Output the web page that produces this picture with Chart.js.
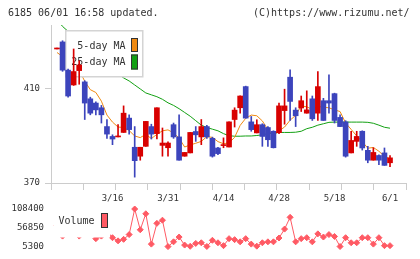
<!DOCTYPE html>
<html><head><meta charset="utf-8">
<script src="https://cdn.jsdelivr.net/npm/chart.js@4"></script>
<style>
html,body{margin:0;padding:0;background:#fff;}
#wrap{position:relative;width:420px;height:259px;overflow:hidden;background:#fff;}
canvas{position:absolute;left:0;top:0;}
.t{position:absolute;top:8px;font:10px 'DejaVu Sans Mono',monospace;line-height:10px;color:#333;white-space:pre;}
</style></head><body>
<div id="wrap">
<canvas id="main" width="420" height="259"></canvas>
<canvas id="vol" width="420" height="259"></canvas>
<div class="t" style="left:8px">6185 06/01 16:58 updated.</div>
<div class="t" style="left:253px">(C)https://www.rizumu.net/</div>
</div>
<script>
const dates = ['3/2','3/3','3/4','3/7','3/8','3/9','3/10','3/11','3/14','3/15','3/16','3/17','3/18','3/22','3/23','3/24','3/25','3/28','3/29','3/30','3/31','4/1','4/4','4/5','4/6','4/7','4/8','4/11','4/12','4/13','4/14','4/15','4/18','4/19','4/20','4/21','4/22','4/25','4/26','4/27','4/28','5/2','5/6','5/9','5/10','5/11','5/12','5/13','5/16','5/17','5/18','5/19','5/20','5/23','5/24','5/25','5/26','5/27','5/30','5/31','6/1'];
const tickLabels = ['3/16','3/31','4/14','4/28','5/18','6/1'];
const open  = [427,430,418,411.7,417.8,413,405.8,404,402,394,389.8,389.6,391.5,397.6,385.2,381.4,385.6,394,391,386,385,394.8,389.6,381.4,382.8,391.9,389.6,394,389,384.9,385.9,385.3,397,402,411,396,391.3,394.8,393.6,392,391.4,400.8,415,401,401.9,399.7,405.8,399.7,405,405,408,397.9,396,382.8,387.7,392,383.9,379.7,381.7,382.8,378.6];
const high  = [427,430.5,418.5,427,422,413.5,406.5,404.5,403,397,390.5,394.8,402.8,399,394,385.2,396.2,395,402,393.4,387.5,395.5,399,383,391.5,394,397,394.5,389.5,385.2,389.2,396,402,407.1,411.2,398.3,396.9,395.2,394,392.2,404,409.9,418.1,402,407,409.2,407,417.4,406,416,408.2,399,396.5,392,392,392.2,385.6,385,382,384.9,381.7];
const low   = [427,417.5,406.5,411.5,412,397,399,399,395.5,389,386.3,389.6,391.5,390.8,372.5,379.7,385.6,388.7,388.7,381.4,381.4,389,379.7,381.4,382.8,387.7,386.3,389,381,382,385,385.3,393.8,399.7,397.6,392,391.3,385.6,385.6,384.9,391,395,396.6,394,400.4,399.7,396.6,396.6,396.6,399.7,395.5,394,381,382.8,385.6,384,378.6,379.7,377.8,377.5,376.9];
const close = [427,418,407,417.4,420.2,404,399.7,401.1,399,390.8,388.7,389.6,399.7,392.7,379.5,385.2,396.2,390.8,402,387,387,389.6,379.7,383,391.5,390.5,394,389.6,381.4,382.5,385.9,396,401,407,397.6,392.7,394.8,389.8,388.4,385,402.8,402.8,404.7,398.6,405,401.1,397.3,411,396.6,404,396.6,394,381.4,388.1,389.8,384.9,379.7,383,379.7,377.5,380.7];
const ma5   = [425.5,423.8,421.2,419.5,417.9,413.3,409.7,408.5,404.8,398.9,395.9,393.8,393.6,392.3,390.0,389.3,390.7,388.9,390.7,392.2,392.6,391.3,389.1,385.3,386.2,386.9,387.7,389.7,389.4,387.6,386.7,387.1,389.4,394.5,397.5,398.9,398.6,396.4,392.7,390.1,392.2,393.8,396.7,398.8,402.8,402.4,401.3,402.6,402.2,402.0,401.1,400.4,395.5,392.8,390.0,387.6,384.8,385.1,383.5,381.3,380.3];
const ma25  = [439.6,436.6,434.5,432.7,430.5,428.8,426.5,424.7,422.4,420.6,418.5,416.5,414.7,413.4,411.7,410.0,408.3,407.5,406.7,405.6,404.1,403.0,401.6,400.0,398.4,396.5,394.6,393.6,392.9,392.2,391.0,390.1,389.9,389.9,390.0,390.0,390.2,390.5,391.0,391.2,391.5,391.5,391.5,391.6,392.0,393.1,393.7,394.6,395.2,395.8,395.9,395.9,395.9,395.9,395.9,395.9,395.8,395.4,394.6,393.7,393.3];
const volume = [62000,34100,78000,52000,34100,70000,56000,27100,34100,48000,29700,21000,25200,38300,108400,51500,95300,12100,69000,77700,5300,18400,31500,9500,6100,14000,15800,5700,22600,15800,7900,27100,24400,18400,27100,12100,6500,15800,18400,18400,28900,53300,85600,18400,27100,29700,18400,40200,31500,38300,33100,5500,29700,15800,15800,29700,29700,12100,29700,7900,7900];
const priceTicks = [370, 410];
const volumeTicks = [5300, 56850, 108400];
const maLabels = ['5-day MA', '25-day MA'];
const volLabel = 'Volume';

const RED='#d80000', BLUE='#3c44bc', ORANGE='#f08a12', GREEN='#12a012', VOLC='#ff5a64';
const FONT="'DejaVu Sans Mono', monospace";
const X_MIN=-1.08, X_MAX=62.88;
const idx = dates.map((d,i)=>i);
const candleColor = i => close[i] >= open[i] ? RED : BLUE;
const markTicks = Array.from({length:12}, (_,k)=> X_MIN + k*(X_MAX-X_MIN)/11);
const labelTicks = tickLabels.map(l => dates.indexOf(l));

function box(ctx,x,y,w,h,c){
  ctx.fillStyle=c; ctx.fillRect(x,y,w,h);
  ctx.strokeStyle='#333'; ctx.lineWidth=1; ctx.strokeRect(x+0.5,y+0.5,w-1,h-1);
}
const legendPlugin = {
  id:'maLegend',
  beforeDatasetDraw(chart,args){
    if(args.index!==2) return;
    const ctx=chart.ctx; ctx.save();
    ctx.fillStyle='#fff'; ctx.fillRect(65,30,78,47);
    ctx.strokeStyle='#d4d4d4'; ctx.lineWidth=1.5; ctx.strokeRect(65.75,30.75,77,46);
    ctx.font="10px "+FONT; ctx.fillStyle='#333'; ctx.textAlign='right'; ctx.textBaseline='middle';
    ctx.fillText(maLabels[0],125.5,46); ctx.fillText(maLabels[1],125.5,62.5);
    box(ctx,131,38,7,14,ORANGE); box(ctx,131,54.5,7,15,GREEN);
    ctx.restore();
  }
};
const volLegendPlugin = {
  id:'volLegend',
  afterDatasetsDraw(chart){
    const ctx=chart.ctx; ctx.save();
    ctx.fillStyle='#fff'; ctx.fillRect(54,205,56,32.5);
    ctx.font="10px "+FONT; ctx.fillStyle='#333'; ctx.textAlign='left'; ctx.textBaseline='middle';
    ctx.fillText(volLabel,58.5,221.5);
    box(ctx,101,213,7,15,VOLC);
    ctx.restore();
  }
};

new Chart(document.getElementById('main'), {
  type:'bar',
  data:{ datasets:[
    {type:'line', data: idx.map(i=>({x:i,y:ma25[i]})), borderColor:GREEN, borderWidth:1, pointRadius:0, tension:0, order:3},
    {type:'line', data: idx.map(i=>({x:i,y:ma5[i]})), borderColor:ORANGE, borderWidth:1, pointRadius:0, tension:0, order:2},
    {type:'bar', data: idx.map(i=>({x:i,y:[low[i],high[i]]})), backgroundColor: idx.map(candleColor), barThickness:1, grouped:false, minBarLength:1, borderWidth:0, order:1},
    {type:'bar', data: idx.map(i=>({x:i,y:[open[i],close[i]]})), backgroundColor: idx.map(candleColor), barThickness:5, grouped:false, minBarLength:1, borderWidth:0, order:0}
  ]},
  options:{ responsive:false, animation:false, devicePixelRatio:1, events:[],
    layout:{padding:{left:0,right:14,top:25,bottom:46}},
    plugins:{legend:{display:false}, tooltip:{enabled:false}},
    scales:{
      x:{type:'linear', min:X_MIN, max:X_MAX, offset:false,
        afterBuildTicks: s => { s.ticks = markTicks.map(v=>({value:v})).concat(labelTicks.map(v=>({value:v}))); },
        afterFit: s => { s.height = 30; },
        grid:{offset:false, drawOnChartArea:false, tickLength:7, color: c => c.index < 12 ? '#cccccc' : 'rgba(0,0,0,0)'},
        border:{display:true, color:'#cccccc'},
        ticks:{autoSkip:false, maxRotation:0, padding:3, color:'#333', font:{family:FONT,size:9}, callback:(v,i)=> i>=12 ? dates[v] : ''}
      },
      y:{ min:370, max:437.2, beginAtZero:false,
        afterBuildTicks: s => { s.ticks = priceTicks.map(v=>({value:v})); },
        afterFit: s => { s.width = 51; },
        grid:{drawOnChartArea:false, tickLength:6, color:'#cccccc'},
        border:{display:true, color:'#cccccc'},
        ticks:{padding:5, color:'#333', font:{family:FONT,size:9}, callback: v => String(v)}
      }
    }
  },
  plugins:[legendPlugin]
});

new Chart(document.getElementById('vol'), {
  type:'line',
  data:{datasets:[{data: idx.map(i=>({x:i,y:volume[i]})), borderColor:VOLC, backgroundColor:VOLC, borderWidth:1, pointStyle:'rectRot', pointRadius:3, pointBorderWidth:1, pointBorderColor:VOLC, pointBackgroundColor:VOLC, tension:0, clip:false}]},
  options:{ responsive:false, animation:false, devicePixelRatio:1, events:[],
    layout:{padding:{left:0,right:14,top:209,bottom:11}},
    plugins:{legend:{display:false}, tooltip:{enabled:false}},
    scales:{
      x:{type:'linear', display:false, min:X_MIN, max:X_MAX, offset:false},
      y:{min:5300, max:108400,
        afterBuildTicks: s => { s.ticks = volumeTicks.map(v=>({value:v})); },
        afterFit: s => { s.width = 51; },
        grid:{display:false, drawTicks:false}, border:{display:false},
        ticks:{padding:7, color:'#333', font:{family:FONT,size:9}, callback: v => String(v)}
      }
    }
  },
  plugins:[volLegendPlugin]
});
</script>
</body></html>
